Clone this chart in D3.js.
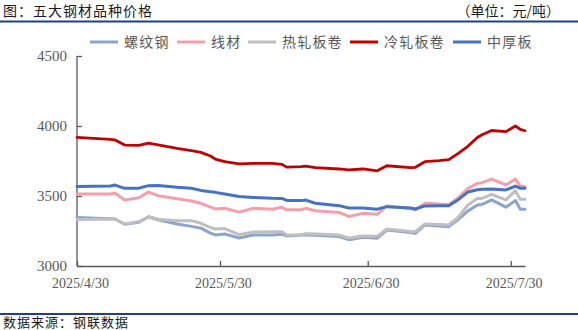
<!DOCTYPE html>
<html>
<head>
<meta charset="utf-8">
<script src="https://cdn.jsdelivr.net/npm/d3@7"></script>
<style>
  html, body { margin: 0; padding: 0; background: #fff; }
  svg { display: block; }
</style>
</head>
<body>
<svg id="chart" width="578" height="330"></svg>
<script>
// Price dates (daily quotes)
const dates = [
  "2025-04-30","2025-05-07","2025-05-08","2025-05-10","2025-05-13","2025-05-15",
  "2025-05-17","2025-05-21","2025-05-24","2025-05-26","2025-05-28","2025-05-29",
  "2025-05-31","2025-06-03","2025-06-06","2025-06-10","2025-06-12","2025-06-13",
  "2025-06-16","2025-06-17","2025-06-19","2025-06-24","2025-06-26","2025-06-29",
  "2025-07-02","2025-07-04","2025-07-09","2025-07-10","2025-07-12","2025-07-15",
  "2025-07-17","2025-07-19","2025-07-21","2025-07-23","2025-07-24","2025-07-26",
  "2025-07-29","2025-07-31","2025-08-01","2025-08-02"
];

// Prices, yuan per tonne
const rebar = [3347,3338,3336,3298,3312,3352,3330,3300,3283,3270,3235,3222,
               3229,3200,3221,3222,3227,3215,3221,3221,3219,3210,3188,3205,
               3199,3257,3239,3233,3293,3285,3281,3333,3392,3436,3440,3472,
               3420,3468,3405,3405];
const wireRod = [3514,3514,3519,3471,3488,3528,3502,3480,3464,3448,3420,3408,
                 3412,3385,3412,3406,3419,3401,3402,3412,3395,3383,3354,3376,
                 3369,3429,3411,3400,3448,3442,3438,3488,3553,3590,3595,3621,
                 3579,3621,3571,3567];
const hotRolled = [3333,3336,3334,3300,3318,3352,3334,3324,3324,3305,3275,3264,
                   3267,3224,3243,3245,3245,3222,3224,3230,3228,3221,3200,3214,
                   3212,3264,3246,3245,3300,3297,3293,3348,3434,3483,3483,3512,
                   3472,3538,3476,3476];
const coldRolled = [3919,3905,3900,3864,3862,3878,3866,3840,3824,3812,3786,3764,
                    3745,3729,3733,3733,3726,3706,3710,3714,3702,3693,3686,3693,
                    3680,3716,3702,3705,3745,3752,3760,3805,3855,3918,3938,3968,
                    3960,4000,3976,3966];
const plate = [3567,3571,3578,3555,3556,3574,3575,3562,3555,3540,3530,3526,
               3514,3497,3490,3484,3483,3468,3467,3471,3448,3431,3414,3414,
               3406,3424,3414,3407,3429,3430,3430,3474,3528,3545,3548,3550,
               3543,3571,3555,3555];

const seriesNames = ["螺纹钢", "线材", "热轧板卷", "冷轧板卷", "中厚板"];
const seriesColors = ["#8CA5CF", "#F4A0AC", "#BFBFBF", "#C00000", "#4472C4"];
const yTicks = [3000, 3500, 4000, 4500];
const xTickDates = ["2025-04-30", "2025-05-30", "2025-06-30", "2025-07-30"];
const xTickLabels = ["2025/4/30", "2025/5/30", "2025/6/30", "2025/7/30"];

const titleText = "图：五大钢材品种价格";
const unitText = "（单位：元/吨）";
const sourceText = "数据来源：钢联数据";

const parse = d3.timeParse("%Y-%m-%d");
const dateObjs = dates.map(parse);
const allSeries = [rebar, wireRod, hotRolled, coldRolled, plate];

const svg = d3.select("#chart");
const cjk = "'Noto Sans CJK SC', 'Noto Sans', sans-serif";
const num = "'Liberation Serif', 'DejaVu Serif', serif";

// Header and footer
svg.append("text").attr("x", 3).attr("y", 16)
  .attr("font-family", cjk).attr("font-size", 14).attr("letter-spacing", 1)
  .attr("fill", "#1a1a1a").text(titleText);
svg.append("text").attr("x", 560).attr("y", 16).attr("text-anchor", "end")
  .attr("font-family", cjk).attr("font-size", 14).attr("fill", "#1a1a1a")
  .text(unitText);
svg.append("line").attr("x1", 0).attr("x2", 578).attr("y1", 21.5).attr("y2", 21.5)
  .attr("stroke", "#1F3F8C").attr("stroke-width", 2);
svg.append("line").attr("x1", 0).attr("x2", 578).attr("y1", 314).attr("y2", 314)
  .attr("stroke", "#1F3F8C").attr("stroke-width", 2);
svg.append("text").attr("x", 3).attr("y", 327)
  .attr("font-family", cjk).attr("font-size", 13).attr("letter-spacing", 1)
  .attr("fill", "#1a1a1a").text(sourceText);

// Scales
const x = d3.scaleTime()
  .domain([parse("2025-04-30"), parse("2025-08-02")])
  .range([77, 525]);
const y = d3.scaleLinear().domain([3000, 4500]).range([266, 56]);

// Axes
const yAxis = svg.append("g").attr("transform", "translate(77,0)")
  .call(d3.axisLeft(y).tickValues(yTicks).tickFormat(d3.format("d"))
    .tickSize(-5).tickSizeOuter(0).tickPadding(10));
yAxis.select(".domain").remove();
yAxis.append("line").attr("x1", 0).attr("x2", 0).attr("y1", y(4500)).attr("y2", y(3000))
  .attr("stroke", "#595959").attr("stroke-width", 1.3);
yAxis.selectAll(".tick line").attr("stroke", "#595959").attr("stroke-width", 1.3);
yAxis.selectAll(".tick text").attr("font-family", num).attr("font-size", 15)
  .attr("fill", "#595959").attr("x", -10);

const xAxis = svg.append("g").attr("transform", `translate(0,${y(3000)})`)
  .call(d3.axisBottom(x).tickValues(xTickDates.map(parse))
    .tickFormat((d, i) => xTickLabels[i]).tickSize(-5).tickSizeOuter(0).tickPadding(12));
xAxis.select(".domain").attr("stroke", "#595959").attr("stroke-width", 1.3);
xAxis.selectAll(".tick line").attr("stroke", "#595959").attr("stroke-width", 1.3);
xAxis.selectAll(".tick text").attr("font-family", num).attr("font-size", 14)
  .attr("fill", "#595959").attr("dx", 3);

// Price lines
const line = d3.line()
  .x((d, i) => x(dateObjs[i]))
  .y(d => y(d))
  .curve(d3.curveLinear);

allSeries.forEach((vals, k) => {
  svg.append("path").datum(vals)
    .attr("d", line)
    .attr("fill", "none")
    .attr("stroke", seriesColors[k])
    .attr("stroke-width", k === 3 ? 2.8 : 3)
    .attr("stroke-linejoin", "round")
    .attr("stroke-linecap", "round");
});

// Legend
const legendX = [90, 177, 248, 350, 453];
const legend = svg.append("g");
seriesNames.forEach((name, k) => {
  const g = legend.append("g").attr("transform", `translate(${legendX[k]},42)`);
  g.append("line").attr("x1", 0).attr("x2", 28).attr("y1", 0).attr("y2", 0)
    .attr("stroke", seriesColors[k]).attr("stroke-width", 3);
  g.append("text").attr("x", 34).attr("y", 5)
    .attr("font-family", cjk).attr("font-size", 14).attr("letter-spacing", 1.2)
    .attr("fill", "#595959").text(name);
});
</script>
</body>
</html>
